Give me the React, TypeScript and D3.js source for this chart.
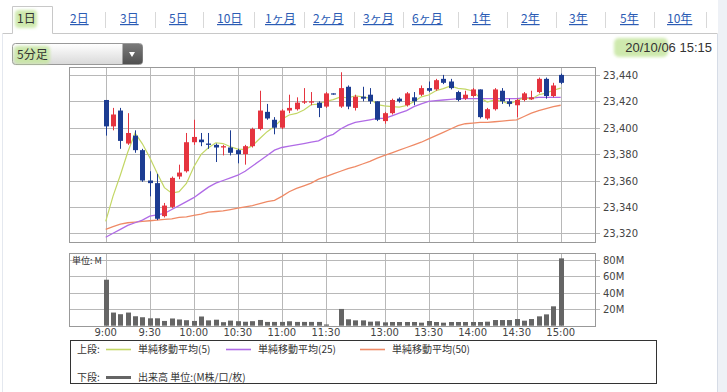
import * as d3 from "d3";

// 5分足 2020/10/06 — slot 31 is the lunch gap
const opens = [
  23421, 23401, 23413, 23388, 23394, 23383, 23360, 23358, 23333, 23340,
  23363, 23367, 23389, 23391, 23388, 23387, 23385, 23385, 23383, 23380,
  23386, 23399, 23412, 23406, 23400, 23413, 23414, 23419, 23419, 23419,
  23416, 23426, 23416, 23431, 23415, 23423.5, 23425, 23420, 23405, 23411,
  23422, 23417, 23423, 23425, 23430, 23429, 23437, 23435, 23427, 23422,
  23424, 23429, 23407, 23414, 23428, 23420, 23417, 23421, 23421.5, 23427,
  23437, 23424, 23440,
];
const highs = [
  23421, 23415, 23415, 23411, 23398, 23384, 23367, 23365, 23343, 23363,
  23372, 23396, 23406, 23396, 23396, 23388, 23387, 23398, 23384, 23387,
  23400, 23428, 23418, 23408, 23414, 23425, 23423, 23430, 23427, 23420,
  23427, 23426, 23442, 23432, 23425, 23431, 23430, 23420, 23412, 23422,
  23423, 23427, 23427, 23432, 23435, 23437, 23440, 23437, 23428, 23428,
  23430, 23429, 23415, 23430, 23430, 23422, 23422, 23427, 23428, 23438,
  23438, 23434, 23441,
];
const lows = [
  23394, 23398, 23384, 23387, 23381, 23359, 23348, 23330, 23332, 23339,
  23361, 23366, 23387, 23386, 23384, 23374, 23379, 23379, 23373, 23372,
  23385, 23398, 23406, 23395, 23399, 23411, 23413, 23418, 23417, 23408,
  23415, 23425, 23415, 23414, 23413, 23420, 23418, 23405, 23403, 23410,
  23419, 23416, 23417, 23424, 23427, 23428, 23433, 23429, 23420, 23421,
  23423, 23407, 23406, 23413, 23418, 23416, 23408, 23420, 23421, 23426,
  23422, 23423, 23433,
];
const closes = [
  23401, 23410, 23390, 23396, 23383, 23360, 23358, 23331, 23341, 23362,
  23366, 23389, 23393, 23389, 23387, 23385, 23386, 23381, 23380, 23386,
  23399, 23413, 23407, 23400, 23413, 23415, 23419, 23420, 23420, 23415,
  23426, 23425.5, 23430, 23416, 23423.5, 23422, 23420, 23406, 23411, 23421,
  23420, 23426, 23420, 23430, 23428, 23436, 23434, 23430, 23421, 23425,
  23429, 23408, 23414, 23429, 23420, 23418, 23421, 23426, 23423, 23437,
  23424, 23432, 23434,
];
// 出来高 (M)
const volumes = [
  56, 16, 14, 16, 11.5, 10.3, 9, 9, 5.8, 8.8,
  7.6, 6.7, 5.8, 11.2, 6.5, 7.3, 4.3, 6.2, 5.5, 4.8,
  5.5, 7, 4.6, 4.6, 4.6, 5.4, 4.6, 4.6, 4.6, 4.6,
  1.5, 0, 20.4, 7.8, 6.5, 6.5, 4.9, 5.3, 4.1, 4.5,
  4.5, 4.5, 4.5, 3.7, 5.7, 4.5, 3.7, 4.5, 4.5, 4.5,
  4.5, 4.5, 4.9, 6.9, 6.9, 6.9, 8.1, 6.1, 8.1, 11.4,
  13.8, 23.6, 82,
];
const ma5 = [
  23329, 23348.2, 23364.2, 23381.4, 23396, 23387.8, 23377.4, 23365.6, 23354.6, 23350.4,
  23351.6, 23357.8, 23370.2, 23379.8, 23384.8, 23388.6, 23388, 23385.6, 23383.8, 23383.6,
  23386.4, 23391.8, 23397, 23401, 23406.4, 23409.6, 23410.8, 23413.4, 23417.4, 23417.8,
  23420, 23421.3, 23423.3, 23422.5, 23424.2, 23423.4, 23422.3, 23417.5, 23416.5, 23416,
  23415.6, 23416.8, 23419.6, 23423.4, 23424.8, 23428, 23429.6, 23431.6, 23429.8, 23429.2,
  23427.8, 23422.6, 23419.4, 23421, 23420, 23417.8, 23420.4, 23422.8, 23421.6, 23425,
  23426.2, 23428.4, 23430,
];
const ma25 = [
  23317, 23320, 23323, 23326, 23328, 23330, 23333, 23334, 23335, 23338,
  23341, 23344, 23347, 23351, 23355, 23358, 23360, 23362, 23364, 23367,
  23371, 23375, 23379, 23383, 23385, 23386, 23387, 23388, 23389, 23390,
  23393, 23395, 23399, 23402, 23404, 23405, 23406, 23407, 23407, 23409,
  23411, 23413, 23416, 23418, 23420, 23420.5, 23421, 23421.5, 23422, 23422,
  23422, 23422, 23422, 23422, 23422, 23422, 23422, 23422.5, 23422.5, 23423,
  23423, 23423, 23423,
];
const ma50 = [
  23323, 23325, 23327, 23328, 23328.5, 23329, 23329.5, 23330, 23330.5, 23331,
  23332, 23332.5, 23333.5, 23334.5, 23336, 23336.5, 23337, 23338, 23339, 23340,
  23341, 23342.5, 23344, 23345, 23348, 23351.5, 23354, 23356, 23358, 23361,
  23363, 23365, 23367, 23369, 23370.5, 23372.5, 23374.5, 23377, 23379, 23381,
  23383, 23385, 23387, 23389, 23391.5, 23394, 23396.5, 23399, 23401.5, 23403,
  23403.5, 23404, 23404, 23404.5, 23405, 23405.5, 23406, 23408.5, 23411, 23413,
  23414.5, 23416, 23417,
];

const priceTicks = [23320, 23340, 23360, 23380, 23400, 23420, 23440];
const volumeTicks = [20, 40, 60, 80];
const timeLabels = ["9:00", "9:30", "10:00", "10:30", "11:00", "11:30", "13:00", "13:30", "14:00", "14:30", "15:00"];
const timeSlots = [0, 6, 12, 18, 24, 30, 38, 44, 50, 56, 62];

const tabs = ["1日", "2日", "3日", "5日", "10日", "1ヶ月", "2ヶ月", "3ヶ月", "6ヶ月", "1年", "2年", "3年", "5年", "10年"];
const tabX = [17, 70, 120, 169, 217, 265, 313, 363, 412, 472, 521, 569, 620, 667];
const sepX = [105, 155, 203, 254, 304, 354, 403, 458, 507, 556, 605, 654, 706];

const legendItems = [
  { label: "単純移動平均(5)", color: "#c3d765" },
  { label: "単純移動平均(25)", color: "#b06be6" },
  { label: "単純移動平均(50)", color: "#ef8a66" },
];

const UP = "#e5343f";
const DOWN = "#1c3c92";
const GRID = "#b8b8b8";
const NUM = "'DejaVu Sans', sans-serif";
const JP = "'Noto Sans CJK JP', sans-serif";

const crisp = (v: number) => Math.round(v) + 0.5;

export default function App() {
  const left = 69, right = 595;
  const pTop = 67, pBottom = 242;
  const vTop = 253, vBottom = 326;

  const slots = d3.range(closes.length);
  const x = d3.scaleLinear().domain([0, 62]).range([105.7, 560.7]);
  const y = d3.scaleLinear().domain([23320, 23440]).range([233.3, 74.9]);
  const yv = d3.scaleLinear().domain([0, 80]).range([325.7, 260]);

  const line = (vals: number[]) =>
    d3.line<number>().x((_, i) => x(i)).y((d) => y(d)).curve(d3.curveLinear)(vals) || "";

  const bodyW = 5;

  return (
    <svg
      width={727}
      height={392}
      viewBox="0 0 727 392"
      style={{ position: "absolute", left: 0, top: 0, background: "#fff" }}
    >
      <defs>
        <linearGradient id="dd" x1="0" y1="0" x2="0" y2="1">
          <stop offset="0" stopColor="#ffffff" />
          <stop offset="1" stopColor="#d9d9d9" />
        </linearGradient>
        <linearGradient id="btn" x1="0" y1="0" x2="0" y2="1">
          <stop offset="0" stopColor="#7a7a7a" />
          <stop offset="1" stopColor="#505050" />
        </linearGradient>
        <filter id="soft" x="-20%" y="-20%" width="140%" height="140%">
          <feGaussianBlur stdDeviation="1.6" />
        </filter>
      </defs>

      {/* outer frame */}
      <rect x={718} y={0} width={9} height={392} fill="#eef1f6" />
      <line x1={717.5} x2={717.5} y1={34} y2={392} stroke="#d6dce6" />
      <line x1={2.5} x2={2.5} y1={34} y2={392} stroke="#e4e8ef" />

      {/* tabs */}
      <path d="M2.5,33.5 H12.5 V6.5 H52.5 V33.5 H717.5" fill="none" stroke="#c8c8c8" />
      <rect x={13} y={7} width={39} height={27} fill="#fff" />
      <rect x={15} y={10} width={22} height={18} rx={4} fill="#c6e6a0" opacity={0.85} filter="url(#soft)" />
      {sepX.map((s) => (
        <line key={s} x1={s + 0.5} x2={s + 0.5} y1={12} y2={28} stroke="#d8d8d8" />
      ))}
      {tabs.map((t, i) => (
        <text
          key={t}
          x={tabX[i]}
          y={23}
          fontFamily={JP}
          fontSize={12}
          fill={i === 0 ? "#333" : "#2b5cb4"}
          textDecoration={i === 0 ? "none" : "underline"}
        >
          {t}
        </text>
      ))}

      {/* dropdown */}
      <rect x={12.5} y={43.5} width={130} height={21} rx={3} fill="url(#dd)" stroke="#999" />
      <path d="M122.5,44 H139.5 A3,3 0 0 1 142.5,47 V61 A3,3 0 0 1 139.5,64 H122.5 Z" fill="url(#btn)" />
      <path d="M129,52 L135,52 L132,57 Z" fill="#fff" />
      <rect x={14} y={46} width={36} height={18} rx={4} fill="#c6e6a0" opacity={0.85} filter="url(#soft)" />
      <text x={17} y={59} fontFamily={JP} fontSize={12} fill="#333">5分足</text>

      <rect x={614} y={38} width={54} height={19} rx={5} fill="#c6e6a0" opacity={0.85} filter="url(#soft)" />
      <text x={712} y={52} textAnchor="end" fontFamily="'Liberation Sans', Arial, sans-serif" fontSize={13} fill="#333">
        20/10/06 15:15
      </text>

      {/* price panel grid */}
      {priceTicks.map((p) => (
        <g key={p}>
          <line x1={left} x2={right + 5} y1={crisp(y(p))} y2={crisp(y(p))} stroke={GRID} />
          <text x={603} y={y(p) + 4} fontFamily={NUM} fontSize={10} fill="#444">
            {d3.format(",")(p)}
          </text>
        </g>
      ))}
      {timeSlots.map((s) => (
        <line key={s} x1={crisp(x(s))} x2={crisp(x(s))} y1={pTop} y2={pBottom} stroke={GRID} />
      ))}
      <rect x={left + 0.5} y={pTop + 0.5} width={right - left} height={pBottom - pTop} fill="none" stroke="#999" />

      {/* moving averages */}
      <path d={line(ma50)} fill="none" stroke={legendItems[2].color} strokeWidth={1.3} />
      <path d={line(ma25)} fill="none" stroke={legendItems[1].color} strokeWidth={1.3} />
      <path d={line(ma5)} fill="none" stroke={legendItems[0].color} strokeWidth={1.2} />

      {/* candles */}
      {slots.map((i) => {
        const o = opens[i], c = closes[i];
        const col = c >= o ? UP : DOWN;
        const top = y(Math.max(o, c));
        const h = Math.max(1.2, y(Math.min(o, c)) - top);
        const cx = Math.round(x(i));
        return (
          <g key={i}>
            <line x1={cx + 0.5} x2={cx + 0.5} y1={y(highs[i])} y2={y(lows[i])} stroke={col} strokeWidth={1} />
            <rect x={cx + 0.5 - bodyW / 2} y={top} width={bodyW} height={h} fill={col} />
          </g>
        );
      })}

      {/* volume panel */}
      {volumeTicks.map((v) => (
        <g key={v}>
          <line x1={left} x2={right + 5} y1={crisp(yv(v))} y2={crisp(yv(v))} stroke={GRID} />
          <text x={603} y={yv(v) + 4} fontFamily={NUM} fontSize={10} fill="#444">
            {v}M
          </text>
        </g>
      ))}
      {timeSlots.map((s) => (
        <line key={s} x1={crisp(x(s))} x2={crisp(x(s))} y1={vTop} y2={vBottom} stroke={GRID} />
      ))}
      {slots.map((i) =>
        volumes[i] > 0 ? (
          <rect
            key={i}
            x={Math.round(x(i)) + 0.5 - bodyW / 2}
            y={yv(volumes[i])}
            width={bodyW}
            height={yv(0) - yv(volumes[i])}
            fill="#656565"
          />
        ) : null
      )}
      <rect x={left + 0.5} y={vTop + 0.5} width={right - left} height={vBottom - vTop} fill="none" stroke="#999" />
      <text x={72} y={264} fontFamily={JP} fontSize={9} fill="#333">単位: M</text>

      {timeSlots.map((s, i) => (
        <text key={s} x={x(s)} y={336} textAnchor="middle" fontFamily={NUM} fontSize={10} fill="#444">
          {timeLabels[i]}
        </text>
      ))}

      {/* legend */}
      <rect x={70.5} y={340.5} width={586} height={43} fill="#fff" stroke="#333" />
      <text x={77} y={353} fontFamily={JP} fontSize={10} fill="#333">上段:</text>
      {legendItems.map((it, i) => {
        const lx = [106, 226, 360][i];
        return (
          <g key={it.label}>
            <line x1={lx} x2={lx + 25} y1={349.5} y2={349.5} stroke={it.color} strokeWidth={1.6} />
            <text x={lx + 32} y={353} fontFamily={JP} fontSize={10} fill="#333">{it.label}</text>
          </g>
        );
      })}
      <text x={77} y={381} fontFamily={JP} fontSize={10} fill="#333">下段:</text>
      <line x1={106} x2={131} y1={377.5} y2={377.5} stroke="#656565" strokeWidth={3} />
      <text x={138} y={381} fontFamily={JP} fontSize={10} fill="#333">出来高 単位:(M株/口/枚)</text>
    </svg>
  );
}
